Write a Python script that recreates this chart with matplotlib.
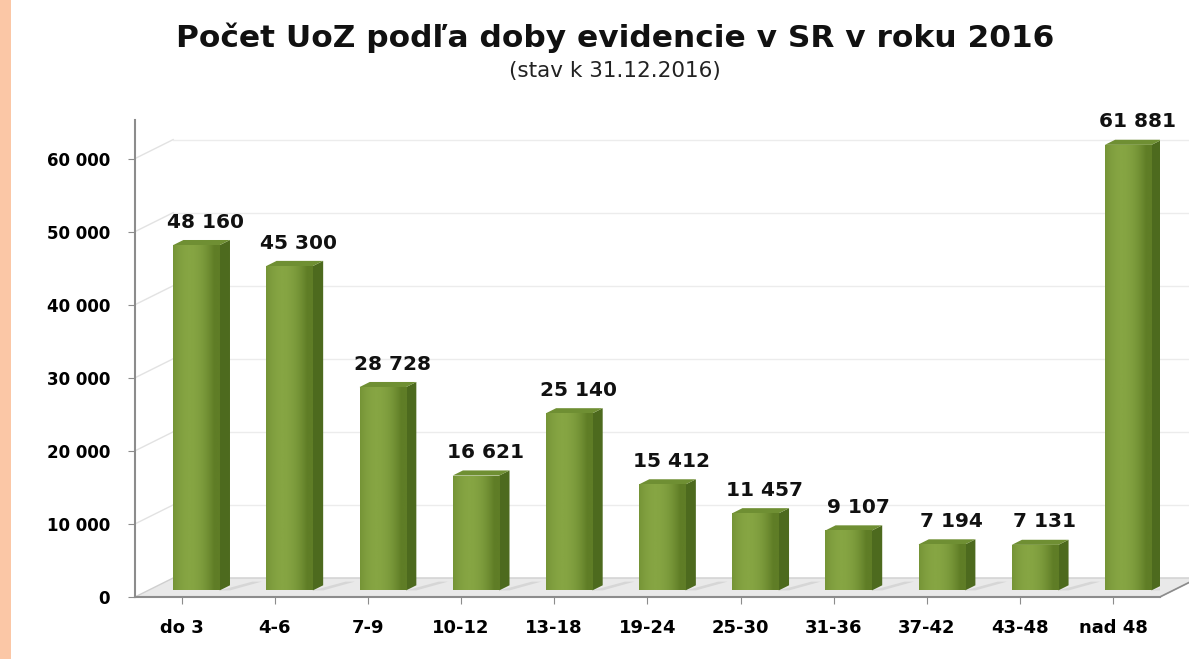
import numpy as np
import matplotlib.pyplot as plt
from matplotlib.patches import Polygon, Rectangle
from matplotlib.colors import LinearSegmentedColormap

# Data
categories = ['do 3', '4-6', '7-9', '10-12', '13-18', '19-24', '25-30',
              '31-36', '37-42', '43-48', 'nad 48']
values = [48160, 45300, 28728, 16621, 25140, 15412, 11457, 9107, 7194, 7131, 61881]
labels = ['48 160', '45 300', '28 728', '16 621', '25 140', '15 412', '11 457',
          '9 107', '7 194', '7 131', '61 881']
yticks = [0, 10000, 20000, 30000, 40000, 50000, 60000]
ytick_labels = ['0', '10 000', '20 000', '30 000', '40 000', '50 000', '60 000']

fig = plt.figure(figsize=(11.89, 6.59), dpi=100)
fig.patch.set_facecolor('white')

# peach strip on the left edge
fig.patches.append(Rectangle((0, 0), 0.009, 1, transform=fig.transFigure,
                             facecolor='#fbc7a6', edgecolor='none', zorder=0))

ax = fig.add_axes([0.1135, 0.0941, 0.862, 0.724])
ax.set_xlim(-0.5, 10.5)
ax.set_ylim(0, 65300)

# 3D wall offset (in data units)
wdx, wdy = 0.41, 2600

# back wall gridlines + oblique connectors
for t in yticks[1:]:
    ax.plot([-0.5, -0.5 + wdx], [t, t + wdy], color='#e2e2e2', lw=1, zorder=1)
    ax.plot([-0.5 + wdx, 10.5 + wdx], [t + wdy, t + wdy], color='#ececec', lw=1,
            zorder=1, clip_on=False)

# floor
floor = Polygon([[-0.5, 0], [10.5, 0], [10.5 + wdx, wdy], [-0.5 + wdx, wdy]],
                closed=True, facecolor='#e9e9e9', edgecolor='#cfcfcf', lw=1,
                zorder=1, clip_on=False)
ax.add_patch(floor)

# bars with fake 3D
bw = 0.5
xoff = 0.16
base = 900
sdx, sdy = 0.11, 700
grad = np.linspace(0, 1, 64)
grad = 1 - 0.35 * (2 * grad - 0.7) ** 2
cmap = LinearSegmentedColormap.from_list('g', ['#5f7d26', '#86a543'])

for i, v in enumerate(values):
    x0 = i + xoff - bw / 2
    x1 = x0 + bw
    top = v
    # shadow on the floor
    sh = Polygon([[x1, base], [x1 + 0.35, base + 1200], [x1 + 0.45, base + 1200],
                  [x1 + sdx, base]], closed=True, facecolor='#d6d6d6',
                 edgecolor='none', zorder=2)
    ax.add_patch(sh)
    # side face
    side = Polygon([[x1, base], [x1 + sdx, base + sdy], [x1 + sdx, top + sdy],
                    [x1, top]], closed=True, facecolor='#4d6a1e',
                   edgecolor='none', zorder=3)
    ax.add_patch(side)
    # top face
    tp = Polygon([[x0, top], [x0 + sdx, top + sdy], [x1 + sdx, top + sdy],
                  [x1, top]], closed=True, facecolor='#6f8f33',
                 edgecolor='none', zorder=3)
    ax.add_patch(tp)
    # front face with gradient
    rect = Rectangle((x0, base), bw, top - base, facecolor='none',
                     edgecolor='none', zorder=4)
    ax.add_patch(rect)
    im = ax.imshow(grad[np.newaxis, :], cmap=cmap, aspect='auto',
                   extent=[x0, x1, base, top], zorder=4, vmin=0.6, vmax=1)
    im.set_clip_path(rect)
    ax.annotate(labels[i], (i + xoff + 0.1, top + sdy), xytext=(0, 6),
                textcoords='offset points', ha='center', va='bottom',
                fontsize=14.5, fontweight='bold', color='#111111', zorder=5)

ax.set_xticks(range(len(categories)))
ax.set_xticklabels(categories, fontsize=13, fontweight='bold')
ax.set_yticks(yticks)
ax.set_yticklabels(ytick_labels, fontsize=12, fontweight='bold')
ax.tick_params(axis='both', color='#8c8c8c', length=5)
ax.tick_params(axis='y', pad=13)
ax.tick_params(axis='x', pad=11)

for s in ['top', 'right']:
    ax.spines[s].set_visible(False)
for s in ['left', 'bottom']:
    ax.spines[s].set_color('#8c8c8c')
    ax.spines[s].set_linewidth(1.5)
ax.set_facecolor('none')

# right edge of floor
ax.plot([10.5, 10.5 + wdx], [0, wdy], color='#8c8c8c', lw=1.2, clip_on=False)

fig.text(0.517, 0.942, 'Počet UoZ podľa doby evidencie v SR v roku 2016',
         ha='center', va='center', fontsize=22.5, fontweight='bold', color='#111111')
fig.text(0.517, 0.893, '(stav k 31.12.2016)', ha='center', va='center',
         fontsize=15.5, color='#222222')

fig.savefig('out.png', dpi=100)
